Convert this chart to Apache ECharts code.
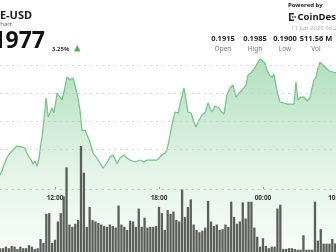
<!DOCTYPE html>
<html><head><meta charset="utf-8">
<script src="https://cdn.jsdelivr.net/npm/echarts@6/dist/echarts.min.js"></script>
<style>html,body{margin:0;padding:0;background:#fff;overflow:hidden}#c{width:336px;height:252px}</style>
</head><body><div id="c"></div>
<script>
// ---- data ----
const priceTimes = [8.83,8.94,9.06,9.17,9.29,9.40,9.52,9.69,9.81,9.92,10.10,10.27,10.38,10.50,10.62,10.73,10.85,10.96,11.02,11.08,11.19,11.25,11.31,11.42,11.48,11.54,11.60,11.71,11.83,11.94,12.06,12.12,12.23,12.40,12.52,12.63,12.69,12.87,13.04,13.15,13.27,13.44,13.56,13.73,13.85,14.02,14.19,14.37,14.48,14.60,14.77,15.00,15.17,15.35,15.58,15.75,15.98,16.15,16.33,16.44,16.62,16.73,16.90,17.13,17.31,17.42,17.60,17.71,17.88,18.00,18.17,18.35,18.46,18.58,18.69,18.81,18.92,19.10,19.27,19.44,19.56,19.67,19.85,20.02,20.13,20.31,20.48,20.65,20.83,20.94,21.06,21.23,21.46,21.63,21.75,21.92,22.10,22.27,22.44,22.62,22.79,23.02,23.14,23.31,23.48,23.65,23.83,23.94,24.12,24.23,24.40,24.52,24.63,24.81,24.98,25.21,25.38,25.62,25.79,25.90,26.02,26.19,26.37,26.54,26.71,26.83,26.94,27.06,27.17,27.29,27.40,27.58,27.81,28.04,28.25];
const priceValues = [0.19014,0.19043,0.19086,0.19121,0.1915,0.19171,0.19186,0.19207,0.19221,0.19207,0.19214,0.19207,0.19171,0.19143,0.19121,0.19093,0.19114,0.19079,0.191,0.19136,0.19243,0.19279,0.1935,0.19479,0.19564,0.19514,0.19429,0.19457,0.19493,0.19457,0.1955,0.196,0.19586,0.1955,0.19607,0.19679,0.19714,0.19693,0.19707,0.19714,0.196,0.19479,0.19329,0.19336,0.193,0.1925,0.19171,0.19143,0.19136,0.191,0.19064,0.191,0.19143,0.19157,0.19093,0.19136,0.19157,0.19136,0.19121,0.19114,0.19107,0.191,0.19121,0.19107,0.19121,0.19114,0.19121,0.19107,0.19121,0.19136,0.19157,0.19171,0.19193,0.19264,0.19336,0.19407,0.19464,0.19457,0.1955,0.19636,0.1955,0.19464,0.19457,0.19393,0.19357,0.19407,0.19443,0.19457,0.19529,0.19493,0.19464,0.19507,0.19493,0.19464,0.1945,0.19586,0.19636,0.19657,0.19571,0.196,0.19621,0.19657,0.19729,0.19743,0.19771,0.19807,0.19843,0.19836,0.19814,0.19764,0.19721,0.19714,0.19736,0.19614,0.19536,0.19529,0.19521,0.19521,0.19521,0.19679,0.1955,0.19571,0.19571,0.19543,0.19564,0.19636,0.19693,0.19714,0.19779,0.19821,0.19807,0.19786,0.19757,0.1975,0.19743];
const volStart = 8.8333;   // hour of first 10-minute bar
const volStep = 1 / 6;     // 10 minutes
const volumes = [0.5,0.5,0.7,0.5,0.8,0.7,0.4,0.7,0.5,0.5,0.9,0.7,0.4,0.5,
  1.7,1.2,5.0,5.1,1.2,1.6,4.0,5.1,7.3,11.1,3.6,3.3,3.7,4.2,13.9,10.4,3.3,5.9,4.2,4.0,3.8,3.6,3.4,3.3,3.6,3.4,
  3.2,6.1,3.6,3.3,2.9,4.1,4.0,3.3,5.7,3.3,4.5,3.2,3.3,3.3,3.4,5.9,5.1,2.9,5.5,5.0,
  5.3,4.2,4.0,8.2,4.6,5.9,6.9,3.6,2.9,2.6,2.8,3.2,6.7,4.0,3.4,3.6,2.9,3.0,3.6,3.3,
  6.6,4.6,3.7,4.0,6.5,4.4,6.6,6.6,3.2,2.0,0.7,1.8,0.8,0.5,0.7,0.7,5.7,6.2,0.4,0.4,
  0.5,0.5,0.4,0.3,0.3,2.2,0.3,0.3,0.3,6.6,1.5,3.0,1.1,1.1,1.1,1.7,1.1];
const tickHours = [12, 18, 24, 28.24];
const tickLabels = ['12:00', '18:00', '00:00', '10:00'];
const gridPrices = [0.192, 0.194, 0.196, 0.198];
const statValues = ['0.1915', '0.1985', '0.1900', '511.56 M'];
const statLabels = ['Open', 'High', 'Low', 'Vol'];
const symbolText = 'DOGE-USD';
const subText = 'Chart';
const lastPrice = '0.1977';
const changeText = '3.25%';
const dateText = '11 Jun 2025 06:25';

// ---- chart ----
// plot extends past the right edge of the 336px window (cropped view)
const X_MIN = 8.827, PX_PER_HOUR = 17.333, PLOT_W = 360;
const X_MAX = X_MIN + PLOT_W / PX_PER_HOUR;
const FONT = '"Noto Sans", "Open Sans", sans-serif';
const chart = echarts.init(document.getElementById('c'), null, {renderer: 'canvas'});

const volData = volumes.map((v, i) => [volStart + i * volStep, v]);
const priceData = priceTimes.map((t, i) => [t, priceValues[i]]);
const labelMap = {};
tickHours.forEach((h, i) => labelMap[h] = tickLabels[i]);

const hiddenX = (gi) => ({type: 'value', gridIndex: gi, min: X_MIN, max: X_MAX, show: false});
const dotted = {color: '#c8c8c8', type: [1.5, 4.5], width: 1};

const statX = [223, 255, 285, 316];
const graphics = [
  {type: 'text', x: 32, y: 15.5, style: {text: symbolText, font: 'bold 11px ' + FONT, fill: '#1a1a1a', textAlign: 'right', textVerticalAlign: 'middle'}},
  {type: 'text', x: 12, y: 24.5, style: {text: subText, font: '6px ' + FONT, fill: '#666', textAlign: 'right', textVerticalAlign: 'middle'}},
  {type: 'text', x: 45, y: 41.5, style: {text: lastPrice, font: 'bold 23px ' + FONT, fill: '#111', textAlign: 'right', textVerticalAlign: 'middle'}},
  {type: 'text', x: 52, y: 49, style: {text: changeText, font: 'bold 6px ' + FONT, fill: '#333', textAlign: 'left', textVerticalAlign: 'middle'}},
  {type: 'polygon', shape: {points: [[74, 51.5], [80.5, 51.5], [77.25, 45]]}, style: {fill: '#4caf50'}},
  {type: 'text', x: 288, y: 5.5, style: {text: 'Powered by', font: 'bold 6px ' + FONT, fill: '#222', textAlign: 'left', textVerticalAlign: 'middle'}},
  {type: 'rect', shape: {x: 289, y: 13, width: 1.6, height: 8}, style: {fill: '#222'}},
  {type: 'rect', shape: {x: 289, y: 13, width: 5, height: 1.5}, style: {fill: '#222'}},
  {type: 'rect', shape: {x: 289, y: 19.5, width: 5, height: 1.5}, style: {fill: '#222'}},
  {type: 'rect', shape: {x: 292, y: 16.3, width: 1.4, height: 1.4}, style: {fill: '#222'}},
  {type: 'rect', shape: {x: 294.5, y: 16.3, width: 1.4, height: 1.4}, style: {fill: '#222'}},
  {type: 'text', x: 297.5, y: 17, style: {text: 'CoinDesk', font: 'bold 9.5px ' + FONT, fill: '#1a1a1a', textAlign: 'left', textVerticalAlign: 'middle'}},
  {type: 'text', x: 291, y: 28.5, style: {text: dateText, font: '6px ' + FONT, fill: '#b0b0b0', textAlign: 'left', textVerticalAlign: 'middle'}}
];
statValues.forEach((v, i) => {
  graphics.push({type: 'text', x: statX[i], y: 39, style: {text: v, font: 'bold 7.5px ' + FONT, fill: '#222', textAlign: 'center', textVerticalAlign: 'middle'}});
  graphics.push({type: 'text', x: statX[i], y: 49, style: {text: statLabels[i], font: '6.5px ' + FONT, fill: '#777', textAlign: 'center', textVerticalAlign: 'middle'}});
});

const gridBase = {left: 0, width: PLOT_W, outerBoundsMode: 'none', containLabel: false};
const option = {
  animation: false,
  backgroundColor: '#fff',
  grid: [
    Object.assign({top: 37, bottom: 0}, gridBase),          // price
    Object.assign({top: 65, height: 84}, gridBase),         // price grid lines
    Object.assign({top: 100, bottom: 63}, gridBase),        // time axis
    Object.assign({top: 146, bottom: 0}, gridBase)          // volume
  ],
  xAxis: [
    hiddenX(0), hiddenX(1),
    {type: 'value', gridIndex: 2, min: X_MIN, max: X_MAX, z: 5,
      splitLine: {show: false},
      axisLine: {show: true, lineStyle: dotted},
      axisTick: {show: true, inside: true, length: 2, customValues: tickHours, lineStyle: {color: '#999'}},
      axisLabel: {show: true, customValues: tickHours, margin: 6, fontSize: 6.5, fontWeight: 'bold', color: '#333', fontFamily: FONT,
        hideOverlap: false,
        formatter: (v) => labelMap[v] || ''}},
    hiddenX(3)
  ],
  yAxis: [
    {type: 'value', gridIndex: 0, min: 0.2 - 215 / 14000, max: 0.2, show: false},
    {type: 'value', gridIndex: 1, min: gridPrices[0], max: gridPrices[gridPrices.length - 1], interval: 0.002, z: 5,
      axisLine: {show: false}, axisTick: {show: false}, axisLabel: {show: false},
      splitLine: {show: true, lineStyle: dotted}},
    {type: 'value', gridIndex: 2, show: false},
    {type: 'value', gridIndex: 3, min: 0, max: 13.9, show: false}
  ],
  series: [
    {type: 'line', xAxisIndex: 0, yAxisIndex: 0, data: priceData, showSymbol: false, z: 2,
      lineStyle: {color: '#6fc384', width: 1.2},
      areaStyle: {color: new echarts.graphic.LinearGradient(0, 0, 0, 1, [
        {offset: 0, color: 'rgba(115,198,137,0.8)'},
        {offset: 0.55, color: 'rgba(115,198,137,0.3)'},
        {offset: 1, color: 'rgba(115,198,137,0.07)'}])}},
    {type: 'bar', xAxisIndex: 3, yAxisIndex: 3, data: volData, barWidth: 2.3, z: 10,
      itemStyle: {color: '#5b5e5b'}}
  ],
  graphic: graphics
};
chart.setOption(option);
</script></body></html>
